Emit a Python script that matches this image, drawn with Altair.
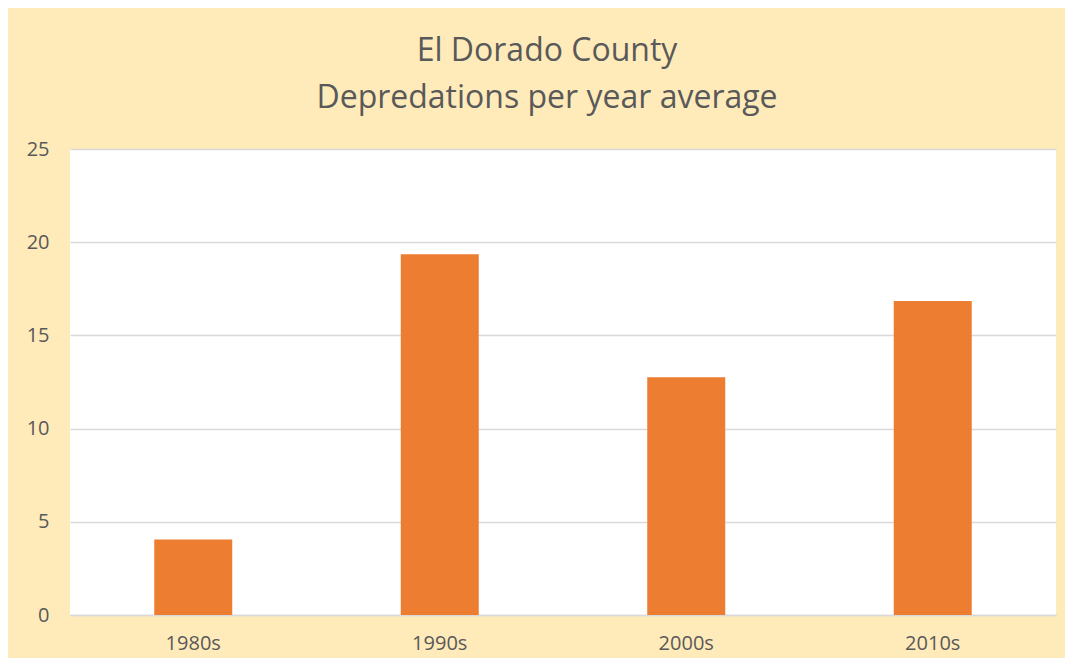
import altair as alt
import pandas as pd

decades = ["1980s", "1990s", "2000s", "2010s"]
values = [4.05, 19.35, 12.75, 16.85]

df = pd.DataFrame({"decade": decades, "value": values})

FONT = "Open Sans"
TXT = "#595959"
GRID = "#D9D9D9"

chart = (
    alt.Chart(df)
    .mark_bar(color="#ED7D31", width=78)
    .encode(
        x=alt.X(
            "decade:N",
            sort=decades,
            title=None,
            scale=alt.Scale(paddingInner=0, paddingOuter=0),
            axis=alt.Axis(
                labelAngle=0,
                labelFont=FONT,
                labelFontSize=20,
                labelColor=TXT,
                labelPadding=18,
                ticks=False,
                domain=True,
                domainColor=GRID,
                domainWidth=1.5,
                grid=False,
            ),
        ),
        y=alt.Y(
            "value:Q",
            title=None,
            scale=alt.Scale(domain=[0, 25], nice=False),
            axis=alt.Axis(
                values=[0, 5, 10, 15, 20, 25],
                labelFont=FONT,
                labelFontSize=20,
                labelColor=TXT,
                labelPadding=21,
                ticks=False,
                domain=False,
                grid=True,
                gridColor=GRID,
                gridWidth=1.5,
            ),
        ),
    )
    .properties(
        width=986,
        height=466,
        background="#FFEBB9",
        autosize=alt.AutoSizeParams(type="none"),
        padding={"left": 62, "top": 141, "right": 9, "bottom": 43},
        title=alt.TitleParams(
            text=["El Dorado County", "Depredations per year average"],
            font=FONT,
            fontSize=32,
            fontWeight="normal",
            color=TXT,
            anchor="middle",
            dx=-16,
            offset=24,
            lineHeight=47,
        ),
    )
    .configure_view(fill="white", stroke=None)
)

chart.save("out.html", embed_options={"renderer": "svg", "actions": False})
